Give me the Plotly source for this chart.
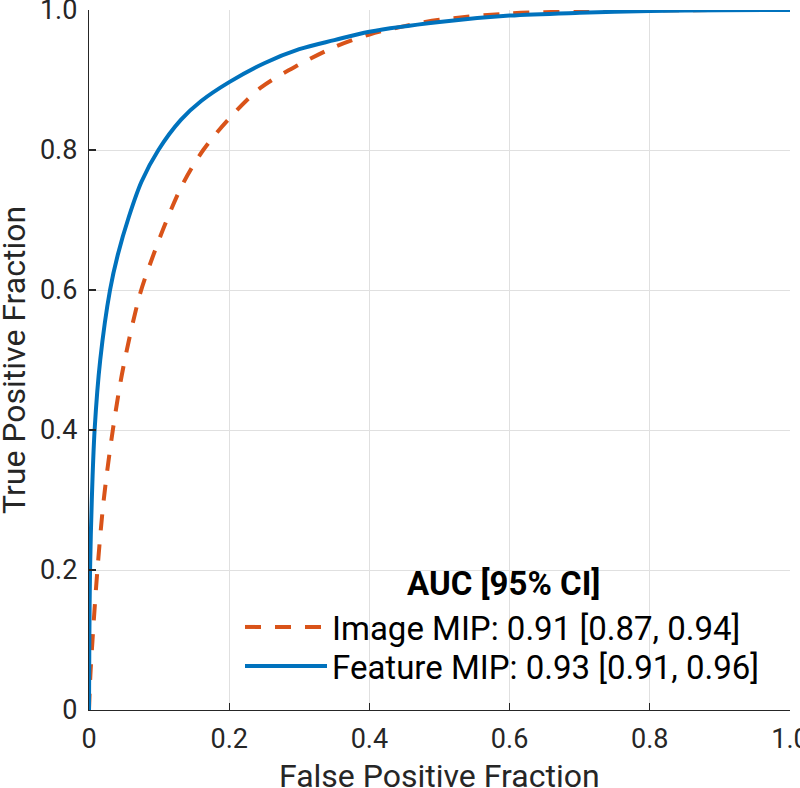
import plotly.graph_objects as go

# Feature MIP ROC curve
feature_fpr = [0.0, 0.0005, 0.0015, 0.004, 0.008, 0.016, 0.03, 0.041, 0.057, 0.075, 0.099, 0.131, 0.16, 0.2,
               0.25, 0.3, 0.35, 0.4, 0.5, 0.6, 0.7, 0.8, 0.9, 1.0]
feature_tpr = [0.0, 0.1, 0.2, 0.3, 0.4, 0.5, 0.6, 0.65, 0.705, 0.755, 0.8, 0.843, 0.87, 0.897,
               0.924, 0.944, 0.957, 0.969, 0.983, 0.992, 0.996, 0.9986, 0.9996, 1.0]

# Image MIP ROC curve
image_fpr = [0.0, 0.002, 0.005, 0.012, 0.021, 0.034, 0.049, 0.073, 0.09, 0.109, 0.133, 0.163, 0.2, 0.245,
             0.3, 0.35, 0.4, 0.45, 0.5, 0.6, 0.7, 0.8, 1.0]
image_tpr = [0.0, 0.05, 0.1, 0.2, 0.3, 0.4, 0.49, 0.595, 0.645, 0.695, 0.75, 0.8, 0.845, 0.889,
             0.922, 0.947, 0.965, 0.977, 0.986, 0.995, 0.998, 0.9995, 1.0]

series_names = ["Image MIP: 0.91 [0.87, 0.94]", "Feature MIP: 0.93 [0.91, 0.96]"]
legend_title = "AUC [95% CI]"
x_title = "False Positive Fraction"
y_title = "True Positive Fraction"

tick_vals = [0, 0.2, 0.4, 0.6, 0.8, 1.0]
tick_text = ["0", "0.2", "0.4", "0.6", "0.8", "1.0"]

FONT = "Roboto"
TXT = "#262626"
LEG_FONT = 33
TITLE_FONT = 32

fig = go.Figure()
fig.add_trace(go.Scatter(
    x=image_fpr, y=image_tpr, mode="lines", name=series_names[0], legend="legend",
    line=dict(color="#D95319", width=4, dash="16px,14px", shape="spline", smoothing=0.9),
))
fig.add_trace(go.Scatter(
    x=feature_fpr, y=feature_tpr, mode="lines", name=series_names[1], legend="legend2",
    line=dict(color="#0072BD", width=4, shape="spline", smoothing=0.9),
))

axis_common = dict(
    range=[0, 1], tickvals=tick_vals, ticktext=tick_text,
    showgrid=True, gridcolor="#e0e0e0", gridwidth=1,
    showline=True, linecolor=TXT, linewidth=1.2,
    ticks="inside", ticklen=7, tickcolor=TXT, tickwidth=1.2,
    tickfont=dict(family=FONT, size=27, color=TXT),
    zeroline=False, mirror=False, fixedrange=True,
    automargin=False, ticklabeloverflow="allow",
)

leg_common = dict(
    font=dict(family=FONT, size=LEG_FONT, color="black"),
    bgcolor="rgba(0,0,0,0)", borderwidth=0,
    xanchor="left", yanchor="middle", itemwidth=82,
)

fig.update_layout(
    width=800, height=788,
    margin=dict(l=89, r=10, t=10, b=78),
    paper_bgcolor="white", plot_bgcolor="white",
    font=dict(family=FONT, color=TXT),
    xaxis=dict(**axis_common, ticklabelstandoff=4),
    yaxis=dict(**axis_common, ticklabelstandoff=5),
    legend=dict(**leg_common, x=(240 - 89) / 701, y=(710 - 627) / 700),
    legend2=dict(**leg_common, x=(240 - 89) / 701, y=(710 - 666) / 700),
    showlegend=True,
    hovermode=False,
    annotations=[
        dict(text="<b>" + legend_title + "</b>", xref="paper", yref="paper",
             x=(503 - 89) / 701, y=(710 - 583) / 700, xanchor="center", yanchor="middle",
             showarrow=False, font=dict(family=FONT, size=LEG_FONT, color="black")),
        dict(text=x_title, xref="paper", yref="paper",
             x=0.5, y=(710 - 776) / 700, xanchor="center", yanchor="middle",
             showarrow=False, font=dict(family=FONT, size=TITLE_FONT, color=TXT)),
        dict(text=y_title, xref="paper", yref="paper", textangle=-90,
             x=(14 - 89) / 701, y=0.5, xanchor="center", yanchor="middle",
             showarrow=False, font=dict(family=FONT, size=TITLE_FONT, color=TXT)),
    ],
)

fig.write_html("out.html", config={"displayModeBar": False, "staticPlot": True},
               post_script="document.body.style.margin='0';document.body.style.overflow='hidden';")
